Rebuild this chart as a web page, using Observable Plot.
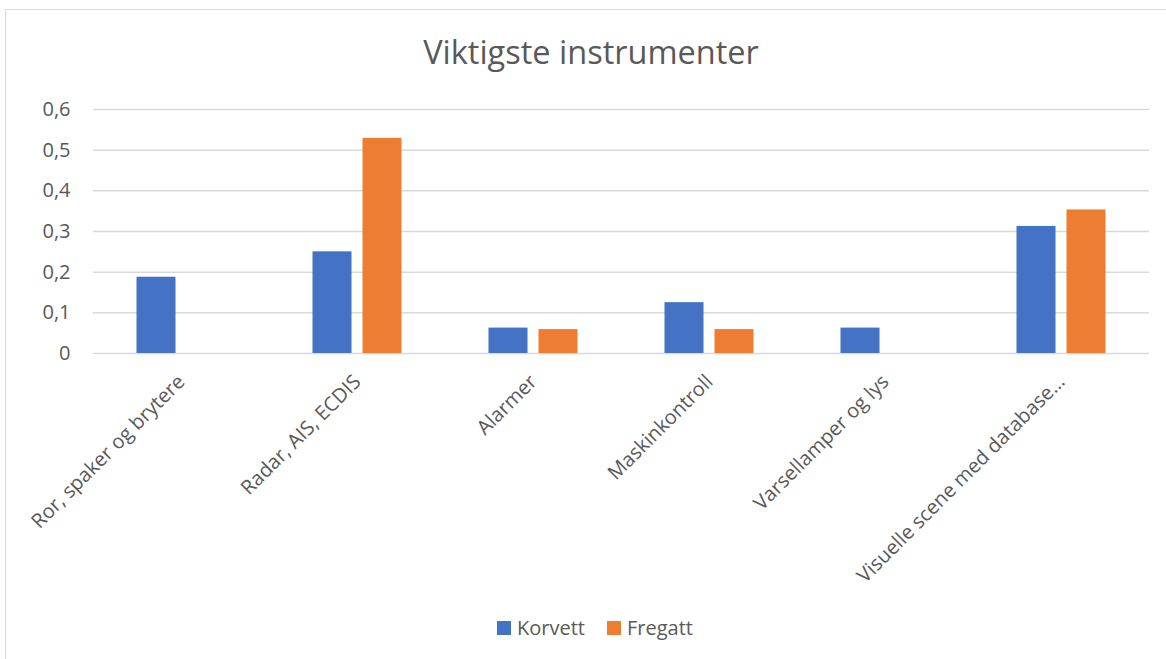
<!DOCTYPE html>
<html>
<head>
<meta charset="utf-8">
<script src="https://cdn.jsdelivr.net/npm/d3@7"></script>
<script src="https://cdn.jsdelivr.net/npm/@observablehq/plot@0.6"></script>
<style>
  html, body { margin: 0; padding: 0; background: #fff; }
  #wrap { position: relative; width: 1166px; height: 659px; overflow: hidden; font-family: "Open Sans", sans-serif; color: #595959; }
  #frame { position: absolute; left: 5px; top: 9px; width: 1170px; height: 660px; border-top: 1.5px solid #d9d9d9; border-left: 1.5px solid #d9d9d9; box-sizing: border-box; }
  #title { position: absolute; left: 0; width: 1182px; top: 30px; text-align: center; font-size: 32.5px; line-height: 44px; color: #595959; }
  #chart { position: absolute; left: 0; top: 90px; }
  #legend { position: absolute; left: 0; width: 1190px; top: 613px; display: flex; justify-content: center; gap: 22px; font-size: 20px; line-height: 30px; }
  .item { display: flex; align-items: center; gap: 6px; }
  .sw { width: 14px; height: 14px; display: inline-block; }
</style>
</head>
<body>
<div id="wrap">
  <div id="frame"></div>
  <div id="title"></div>
  <div id="chart"></div>
  <div id="legend"></div>
</div>
<script>
const title = "Viktigste instrumenter";
const categories = ["Ror, spaker og brytere", "Radar, AIS, ECDIS", "Alarmer", "Maskinkontroll", "Varsellamper og lys", "Visuelle scene med database…"];
const series = ["Korvett", "Fregatt"];
const korvett = [0.1875, 0.25, 0.0625, 0.125, 0.0625, 0.3125];
const fregatt = [0, 0.529, 0.0588, 0.0588, 0, 0.353];
const yTicks = [0, 0.1, 0.2, 0.3, 0.4, 0.5, 0.6];
const colors = ["#4472c4", "#ed7d31"];

const rows = [
  ...categories.map((c, i) => ({cat: c, series: series[0], value: korvett[i]})),
  ...categories.map((c, i) => ({cat: c, series: series[1], value: fregatt[i]}))
];

const fmt = d3.formatLocale({decimal: ",", thousands: " ", grouping: [3], currency: ["", " kr"]}).format("~g");

document.getElementById("title").textContent = title;

const chart = Plot.plot({
  width: 1166,
  height: 520,
  marginLeft: 93,
  marginRight: 17,
  marginTop: 19,
  marginBottom: 257,
  style: {fontFamily: "Open Sans, sans-serif", fontSize: "19px", color: "#595959", background: "transparent", overflow: "visible"},
  x: {domain: categories, padding: 0, label: null},
  y: {domain: [0, 0.6], label: null},
  color: {domain: series, range: colors},
  marks: [
    Plot.gridY(yTicks, {stroke: "#d9d9d9", strokeOpacity: 1, strokeWidth: 1.5}),
    Plot.barY(rows.filter(d => d.series === series[0]), {x: "cat", y: "value", fill: "series", insetLeft: 43.5, insetRight: 93.5}),
    Plot.barY(rows.filter(d => d.series === series[1]), {x: "cat", y: "value", fill: "series", insetLeft: 93.5, insetRight: 43.5}),
    Plot.axisY(yTicks, {tickSize: 0, tickPadding: 23, tickFormat: fmt, fill: "#595959", fontSize: 20}),
    Plot.axisX({tickSize: 0, tickPadding: 25, tickRotate: -45, fill: "#595959", fontSize: 20})
  ]
});
document.getElementById("chart").appendChild(chart);

const legend = document.getElementById("legend");
series.forEach((s, i) => {
  const item = document.createElement("div");
  item.className = "item";
  const sw = document.createElement("span");
  sw.className = "sw";
  sw.style.background = colors[i];
  const t = document.createElement("span");
  t.textContent = s;
  item.appendChild(sw);
  item.appendChild(t);
  legend.appendChild(item);
});
</script>
</body>
</html>
